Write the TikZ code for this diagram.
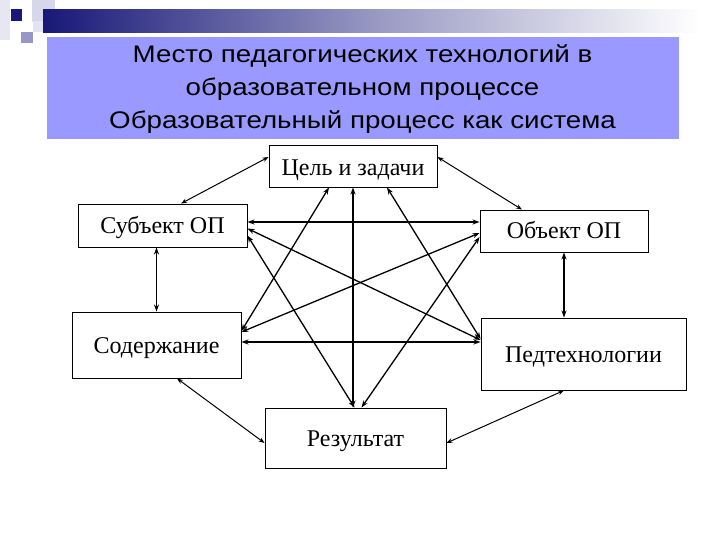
\documentclass[tikz,border=0pt]{standalone}
\usepackage{fontspec}
\setmainfont{Liberation Serif}
\newfontfamily\titlefont{Liberation Sans}
\usetikzlibrary{arrows.meta,calc}
\definecolor{navybar}{RGB}{24,24,120}
\definecolor{titlebg}{RGB}{153,153,255}
\definecolor{sqlight}{RGB}{215,215,235}
\definecolor{sqmid}{RGB}{150,150,200}
\tikzset{
  box/.style={draw=black, line width=0.9pt, fill=white, inner sep=0pt, text height=16pt, text depth=0pt, font=\fontsize{24}{28}\selectfont},
  titleline/.style={anchor=base, inner sep=0pt, xscale=1.155, font=\titlefont\fontsize{24}{28}\selectfont},
  link/.style={line width=1.3pt, {Stealth[length=7pt,width=5pt]}-{Stealth[length=7pt,width=5pt]}},
  thinlink/.style={line width=1pt, {Stealth[length=6pt,width=4.5pt]}-{Stealth[length=6pt,width=4.5pt]}},
  boldlink/.style={line width=1.7pt, {Stealth[length=7pt,width=5pt]}-{Stealth[length=7pt,width=5pt]}}
}
\begin{document}
\begin{tikzpicture}[x=1pt,y=-1pt]
\useasboundingbox (0,0) rectangle (720,540);
\fill[white] (0,0) rectangle (720,540);
% decoration
\fill[sqlight!60] (0,0) rectangle (10,40);
\fill[sqlight] (32,0) rectangle (55,22);
\fill[sqlight!70] (33,21) rectangle (43,32);
\fill[sqmid] (21,32) rectangle (33,43);
\shade[left color=navybar, right color=white, middle color=navybar!45] (43,10) rectangle (700,33);
\fill[navybar] (11,9) rectangle (22,21);
% title
\fill[titlebg] (47,37) rectangle (679,139);
\node[titleline] (t1) at (362.5,63) {Место педагогических технологий в};
\node[titleline] (t2) at (362.5,96) {образовательном процессе};
\node[titleline] (t3) at (362.5,129) {Образовательный процесс как система};
% nodes
\node[box, minimum width=168pt, minimum height=42pt] (cel) at (353,166) {\raisebox{-2pt}{Цель и задачи}};
\node[box, minimum width=169pt, minimum height=43pt] (sub) at (162.5,225.5) {Субъект ОП};
\node[box, minimum width=168pt, minimum height=42pt] (obj) at (564,231) {Объект ОП};
\node[box, minimum width=169pt, minimum height=66pt] (sod) at (156.5,345) {Содержание};
\node[box, minimum width=205pt, minimum height=72pt] (ped) at (583.5,354) {Педтехнологии};
\node[box, minimum width=181pt, minimum height=60pt] (res) at (355.5,438) {Результат};
% outer links
\draw[thinlink] ($(cel.west)+(0,-9)$) -- ($(sub.north)+(18.5,0)$);
\draw[thinlink] ($(cel.east)+(0,-9)$) -- ($(obj.north)+(-42,0)$);
\draw[boldlink] (sod.north |- sub.south) -- (sod.north);
\draw[boldlink] (obj.south) -- (obj.south |- ped.north);
\draw[thinlink] ($(sod.south)+(20.5,0)$) -- ($(res.west)+(0,5)$);
\draw[thinlink] ($(ped.south)+(-19.5,0)$) -- ($(res.east)+(0,5)$);
% inner links
\coordinate (h1) at ($(sub.east)+(0,-3.5)$);
\draw[boldlink] (h1) -- (obj.west |- h1);
\coordinate (h2) at ($(sod.east)+(0,-3)$);
\draw[boldlink] (h2) -- (ped.west |- h2);
\draw[link] ($(sub.east)+(0,3)$) -- ($(ped.west)+(0,-14)$);
\draw[link] ($(cel.south)+(34,0)$) -- ($(ped.west)+(0,-15)$);
\draw[link] ($(sod.east)+(0,-13)$) -- ($(obj.west)+(0,2)$);
\draw[link] ($(cel.south)+(-24,0)$) -- ($(sod.east)+(0,-14)$);
\draw[link] ($(sub.east)+(0,10)$) -- ($(res.north)+(-1,0)$);
\draw[link] ($(obj.west)+(0,6)$) -- ($(res.north)+(6,0)$);
\draw[link] (cel.south) -- (cel.south |- res.north);
\end{tikzpicture}
\end{document}
